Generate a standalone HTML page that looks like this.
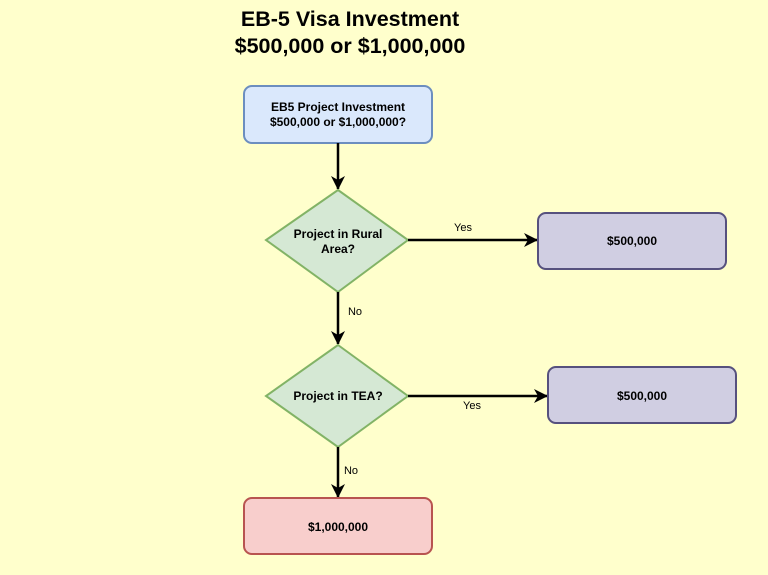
<!DOCTYPE html>
<html><head><style>
html,body{margin:0;padding:0;background:#ffffcc;}
svg{display:block;font-family:"Liberation Sans",Arial,sans-serif;}
</style></head><body>
<svg width="768" height="575" viewBox="0 0 768 575" xmlns="http://www.w3.org/2000/svg">
<rect width="768" height="575" fill="#ffffcc"/>
<defs><marker id="a" markerWidth="14" markerHeight="14" refX="13" refY="7" orient="auto" markerUnits="userSpaceOnUse"><path d="M0,0 L14,7 L0,14 L4,7 z" fill="#000"/></marker></defs>
<text x="350" y="26" font-size="21.5" font-weight="bold" text-anchor="middle" fill="#000">EB-5 Visa Investment</text>
<text x="350" y="53" font-size="21.5" font-weight="bold" text-anchor="middle" fill="#000">$500,000 or $1,000,000</text>
<rect x="244" y="86" width="188" height="57" rx="8" fill="#dae8fc" stroke="#6c8ebf" stroke-width="2"/>
<text x="338" y="111" font-size="12" font-weight="bold" text-anchor="middle">EB5 Project Investment</text>
<text x="338" y="126" font-size="12" font-weight="bold" text-anchor="middle">$500,000 or $1,000,000?</text>
<line x1="338" y1="143" x2="338" y2="189" stroke="#000" stroke-width="2.5" marker-end="url(#a)"/>
<polygon points="338,190 408,240 338,292 266,240" fill="#d5e8d4" stroke="#82b366" stroke-width="2"/>
<text x="338" y="238" font-size="12" font-weight="bold" text-anchor="middle">Project in Rural</text>
<text x="338" y="253" font-size="12" font-weight="bold" text-anchor="middle">Area?</text>
<line x1="408" y1="240" x2="537" y2="240" stroke="#000" stroke-width="2.5" marker-end="url(#a)"/>
<text x="463" y="231" font-size="11" text-anchor="middle">Yes</text>
<rect x="538" y="213" width="188" height="56" rx="8" fill="#d0cee2" stroke="#56517e" stroke-width="2"/>
<text x="632" y="245" font-size="12" font-weight="bold" text-anchor="middle">$500,000</text>
<line x1="338" y1="292" x2="338" y2="344" stroke="#000" stroke-width="2.5" marker-end="url(#a)"/>
<text x="355" y="315" font-size="11" text-anchor="middle">No</text>
<polygon points="338,345 408,396 338,447 266,396" fill="#d5e8d4" stroke="#82b366" stroke-width="2"/>
<text x="338" y="400" font-size="12" font-weight="bold" text-anchor="middle">Project in TEA?</text>
<line x1="408" y1="396" x2="547" y2="396" stroke="#000" stroke-width="2.5" marker-end="url(#a)"/>
<text x="472" y="409" font-size="11" text-anchor="middle">Yes</text>
<rect x="548" y="367" width="188" height="56" rx="8" fill="#d0cee2" stroke="#56517e" stroke-width="2"/>
<text x="642" y="400" font-size="12" font-weight="bold" text-anchor="middle">$500,000</text>
<line x1="338" y1="447" x2="338" y2="497" stroke="#000" stroke-width="2.5" marker-end="url(#a)"/>
<text x="351" y="474" font-size="11" text-anchor="middle">No</text>
<rect x="244" y="498" width="188" height="56" rx="8" fill="#f8cecc" stroke="#b85450" stroke-width="2"/>
<text x="338" y="531" font-size="12" font-weight="bold" text-anchor="middle">$1,000,000</text>
</svg>
</body></html>
